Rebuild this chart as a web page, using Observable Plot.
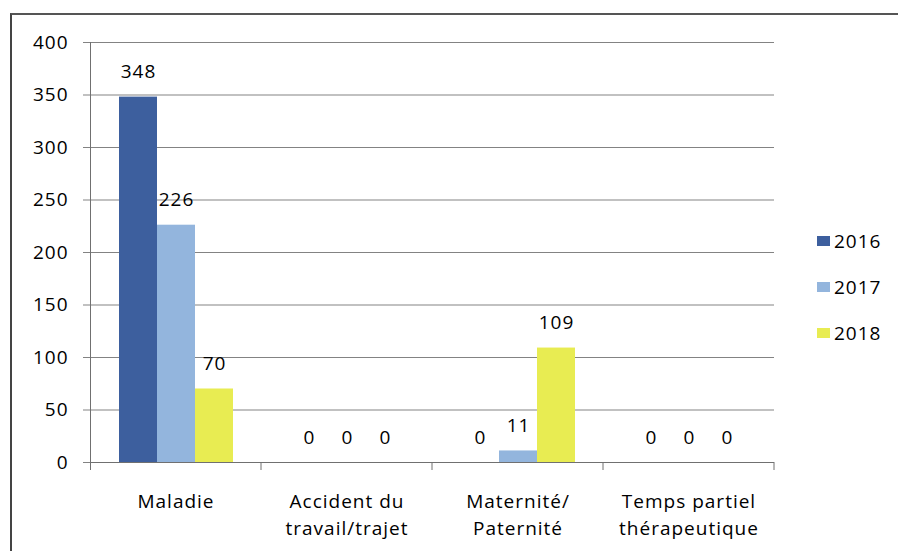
<!DOCTYPE html>
<html>
<head>
<meta charset="utf-8">
<script src="https://cdn.jsdelivr.net/npm/d3@7"></script>
<script src="https://cdn.jsdelivr.net/npm/@observablehq/plot@0.6"></script>
<style>
  html, body { margin: 0; padding: 0; background: #fff; }
  #wrap { position: relative; width: 898px; height: 551px; overflow: hidden; font-family: "Open Sans", sans-serif; }
  #border { position: absolute; left: 10px; top: 13px; right: -5px; bottom: -5px; border-left: 2px solid #444; border-top: 2px solid #555; }
  #legend { position: absolute; left: 817px; top: 0; font-size: 19px; font-weight: 500; letter-spacing: 1px; color: #000; }
  .row { position: absolute; left: 0; display: flex; align-items: center; white-space: nowrap; height: 24px; }
  .sw { width: 13px; height: 10px; margin-right: 4px; }
  svg { position: absolute; left: 0; top: 0; }
</style>
</head>
<body>
<div id="wrap"><div id="border"></div><div id="legend"></div></div>
<script>
const categories = ["Maladie", "Accident du\ntravail/trajet", "Maternité/\nPaternité", "Temps partiel\nthérapeutique"];
const years = ["2016", "2017", "2018"];
const values2016 = [348, 0, 0, 0];
const values2017 = [226, 0, 11, 0];
const values2018 = [70, 0, 109, 0];
const yTicks = [0, 50, 100, 150, 200, 250, 300, 350, 400];
const colors = ["#3D5F9E", "#93B5DD", "#E8EC52"];

const series = [values2016, values2017, values2018];
const data = categories.flatMap((c, i) => years.map((y, j) => ({category: c, year: y, value: series[j][i]})));

const chart = Plot.plot({
  width: 898,
  height: 551,
  marginLeft: 89,
  marginRight: 124,
  marginTop: 42,
  marginBottom: 89,
  style: {fontFamily: "Open Sans, sans-serif", fontSize: "19px", fontWeight: 500, color: "#000", background: "transparent", letterSpacing: "1px"},
  fx: {domain: categories, padding: 0, label: null, axis: null},
  x: {domain: years, paddingInner: 0, paddingOuter: 0.73, axis: null},
  y: {domain: [0, 400], label: null},
  color: {domain: years, range: colors},
  marks: [
    Plot.gridY(yTicks, {stroke: "#838383", strokeOpacity: 1}),
    Plot.axisY(yTicks, {tickSize: 7, tickPadding: 15, stroke: "#838383", label: null, fontSize: 19}),
    Plot.axisFx({anchor: "bottom", tickSize: 0, tickPadding: 27, label: null, lineHeight: 1.4, fontSize: 19}),
    Plot.barY(data, {fx: "category", x: "year", y: "value", fill: "year"}),
    Plot.ruleY([0], {stroke: "#707070"}),
    Plot.text(data, {fx: "category", x: "year", y: "value", text: d => String(d.value), dy: -25, fontSize: 19, fill: "#000"})
  ]
});

// axis line and boundary ticks placed through the Plot scales
const fxS = chart.scale("fx");
const yS = chart.scale("y");
const y0 = yS.apply(0), yTop = yS.apply(400);
const edges = categories.map(c => fxS.apply(c)).concat([fxS.apply(categories[categories.length - 1]) + fxS.bandwidth]);
const g = d3.select(chart).append("g").attr("stroke", "#707070");
g.append("line").attr("x1", edges[0] + 0.5).attr("x2", edges[0] + 0.5).attr("y1", yTop).attr("y2", y0 + 8);
edges.slice(1).forEach(x => g.append("line").attr("x1", x).attr("x2", x).attr("y1", y0).attr("y2", y0 + 8));

document.getElementById("wrap").appendChild(chart);

const legend = d3.select("#legend");
const legendTops = {"2016": 229, "2017": 275, "2018": 321};
years.forEach((y, j) => {
  const row = legend.append("div").attr("class", "row").style("top", legendTops[y] + "px");
  row.append("div").attr("class", "sw").style("background", colors[j]);
  row.append("span").text(y);
});
</script>
</body>
</html>
